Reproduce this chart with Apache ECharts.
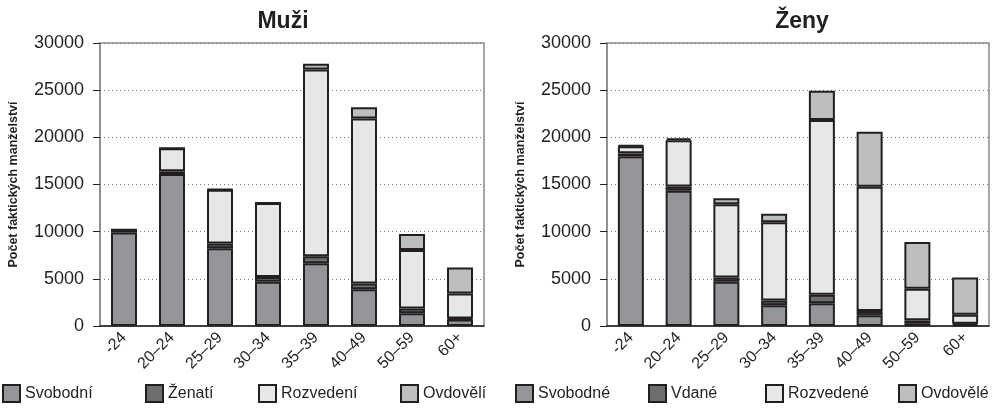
<!DOCTYPE html>
<html>
<head>
<meta charset="utf-8">
<script src="https://cdn.jsdelivr.net/npm/echarts@6/dist/echarts.min.js"></script>
<style>
  html, body { margin: 0; padding: 0; background: #fff; }
  #main { width: 992px; height: 411px; }
</style>
</head>
<body>
<div id="main"></div>
<script>
// vekové skupiny
var categories = ['-24', '20–24', '25–29', '30–34', '35–39', '40–49', '50–59', '60+'];

// Muži
var muziNames = ['Svobodní', 'Ženatí', 'Rozvedení', 'Ovdovělí'];
var muziSvobodni = [9900, 16100, 8250, 4700, 6650, 3900, 1350, 700];
var muziZenati = [250, 300, 500, 500, 750, 600, 500, 100];
var muziRozvedeni = [50, 2450, 5700, 7850, 19800, 17500, 6200, 2650];
var muziOvdoveli = [0, 0, 50, 0, 600, 1200, 1700, 2750];

// Ženy
var zenyNames = ['Svobodné', 'Vdané', 'Rozvedené', 'Ovdovělé'];
var zenySvobodne = [18000, 14350, 4700, 2200, 2400, 1150, 300, 100];
var zenyVdane = [300, 450, 450, 500, 900, 450, 300, 150];
var zenyRozvedene = [750, 4900, 7750, 8300, 18550, 13150, 3350, 950];
var zenyOvdovele = [100, 200, 650, 900, 3100, 5850, 4950, 3950];

var yTicks = [0, 5000, 10000, 15000, 20000, 25000, 30000];

var colors = ['#939598', '#6d6e70', '#e6e7e8', '#bcbec0'];
var font = '"Liberation Sans", Arial, sans-serif';

var myChart = echarts.init(document.getElementById('main'));

function makeX(idx) {
  return {
    type: 'category',
    gridIndex: idx,
    data: categories,
    axisTick: { show: false },
    axisLine: { lineStyle: { color: '#231f20', width: 1.5 } },
    axisLabel: {
      rotate: 45,
      interval: 0,
      margin: 9,
      fontFamily: font,
      fontSize: 16,
      color: '#231f20'
    }
  }
}

function makeY(idx) {
  return {
    type: 'value',
    gridIndex: idx,
    min: yTicks[0],
    max: yTicks[yTicks.length - 1],
    interval: 5000,
    name: 'Počet faktických manželství',
    nameLocation: 'middle',
    nameGap: 80,
    nameRotate: 90,
    nameTextStyle: {
      fontFamily: font,
      fontWeight: 'bold',
      fontSize: 12.5,
      color: '#231f20'
    },
    axisLine: { show: true, lineStyle: { color: '#8a8a8a', width: 1.5 } },
    axisTick: { show: true, length: 7, lineStyle: { color: '#231f20' } },
    axisLabel: {
      margin: 16,
      fontFamily: font,
      fontSize: 18,
      color: '#231f20',
      formatter: function(v) { return String(v) }
    },
    splitLine: {
      show: true,
      lineStyle: { color: '#777', type: [1, 3], width: 1 }
    }
  }
}

function makeSeries(name, data, i, idx) {
  return {
    name: name,
    type: 'bar',
    stack: 'g' + idx,
    xAxisIndex: idx,
    yAxisIndex: idx,
    barWidth: 26,
    data: data,
    itemStyle: {
      color: colors[i],
      borderColor: '#231f20',
      borderWidth: 2
    }
  }
}

var muziData = [muziSvobodni, muziZenati, muziRozvedeni, muziOvdoveli];
var zenyData = [zenySvobodne, zenyVdane, zenyRozvedene, zenyOvdovele];

var series = [];
muziNames.forEach(function(n, i) { series.push(makeSeries(n, muziData[i], i, 0)) });
zenyNames.forEach(function(n, i) { series.push(makeSeries(n, zenyData[i], i, 1)) });

// legenda - každá položka zvlášť kvůli pozicím
var legendLeft = [2, 145, 258, 400, 515, 648, 765, 898];
var legendNames = muziNames.concat(zenyNames);
var legends = legendNames.map(function(n, i) {
  return {
    data: [n],
    left: legendLeft[i],
    top: 384,
    padding: 0,
    itemWidth: 17,
    itemHeight: 17,
    itemGap: 0,
    icon: 'rect',
    textStyle: {
      fontFamily: font,
      fontSize: 16,
      color: '#231f20'
    }
  }
});

var option = {
  animation: false,
  backgroundColor: '#fff',
  title: [{
    text: 'Muži',
    left: 278,
    top: 5,
    textAlign: 'center',
    textStyle: { fontFamily: font, fontWeight: 'bold', fontSize: 23, color: '#231f20' }
  }, {
    text: 'Ženy',
    left: 797,
    top: 5,
    textAlign: 'center',
    textStyle: { fontFamily: font, fontWeight: 'bold', fontSize: 23, color: '#231f20' }
  }],
  legend: legends,
  grid: [{
    left: 100, top: 43, width: 384, height: 283,
    show: true, borderColor: '#8a8a8a', borderWidth: 1.5
  }, {
    left: 607, top: 43, width: 382, height: 283,
    show: true, borderColor: '#8a8a8a', borderWidth: 1.5
  }],
  xAxis: [makeX(0), makeX(1)],
  yAxis: [makeY(0), makeY(1)],
  series: series
};

myChart.setOption(option);
window.addEventListener('resize', function() {
  myChart.resize()
});
</script>
</body>
</html>
